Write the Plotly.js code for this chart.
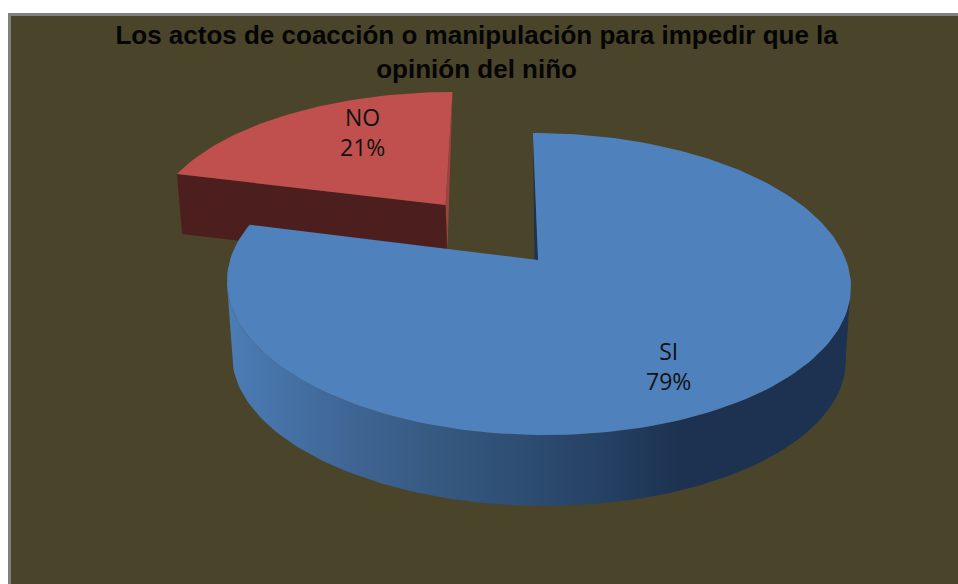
<!DOCTYPE html>
<html><head><meta charset="utf-8">
<script src="https://cdn.plot.ly/plotly-3.0.1.min.js"></script>
<style>html,body{margin:0;padding:0;background:#fff}#c{width:958px;height:584px}</style>
</head><body><div id="c"></div>
<script>
const categories = ['SI', 'NO'];
const values = [79, 21];
const sliceColors = ['#4F81BD', '#C0504D'];
const titleText = 'Los actos de coacción o manipulación para impedir que la<br>opinión del niño';

// Perspective view of the tilted disc: a slice rim point is derived from its angle.
const total = values.reduce((a, b) => a + b, 0);
const startDeg = 0;
const angles = [startDeg];
values.forEach(v => angles.push(angles[angles.length - 1] + v / total * 360));

function viewPoint(view, deg) {
  const t = deg * Math.PI / 180, u = Math.sin(t), v = Math.cos(t), w = 1 + view.k * v;
  const dy = view.b * v / w;
  return [view.x + view.a * u / w + view.shear * dy, view.y - dy];
}
function arc(view, from, to) {
  const n = Math.max(2, Math.ceil(Math.abs(to - from) / 1.5));
  const pts = [];
  for (let i = 0; i <= n; i++) pts.push(viewPoint(view, from + (to - from) * i / n));
  return pts;
}
function poly(pts, color, extra) {
  const xs = pts.map(p => p[0]), ys = pts.map(p => p[1]);
  xs.push(xs[0]); ys.push(ys[0]);
  return Object.assign({
    type: 'scatter', mode: 'lines', x: xs, y: ys, fill: 'toself', fillcolor: color,
    line: {width: 0, color: color}, hoverinfo: 'skip', showlegend: false
  }, extra || {});
}

const blueTop = {x: 538, y: 260, a: 308, b: 147.2, k: 0.159, shear: -0.04};
const blueBase = {x: 538, y: 334, a: 303, b: 144.5, k: 0.159, shear: -0.04};
const redTop = {x: 445.5, y: 205, a: 289, b: 129, k: 0.142, shear: 0.062};
const redDrop = [2, 60];

const redRim = arc(redTop, angles[1], angles[2]);
const redFront = viewPoint(redTop, angles[1]);
const redEnd = viewPoint(redTop, angles[2]);
const redApex = [redTop.x, redTop.y];
const blueRim = arc(blueTop, angles[0], angles[1]);
const blueApex = [blueTop.x, blueTop.y];
const blueStart = viewPoint(blueTop, angles[0]);

const traces = [
  // red wedge: side walls then top
  poly([redEnd, redApex, [redApex[0] + redDrop[0], redApex[1] + 44]], '#A04141'),
  poly([redFront, redApex, [redApex[0] + redDrop[0], redApex[1] + redDrop[1]], [redFront[0] + 5, redFront[1] + redDrop[1]]], '#4D1E1E'),
  poly([redApex].concat(redRim), sliceColors[1]),
  // blue wedge: wall, inner sliver, top
  poly(arc(blueTop, 99, 261).concat(arc(blueBase, 261, 99)), '#1C3250', {
    fillgradient: {type: 'horizontal', colorscale: [
      [0, '#4B7DB6'], [0.08, '#4673A8'], [0.2, '#3F6594'], [0.35, '#35587F'],
      [0.5, '#2C4B70'], [0.62, '#243F61'], [0.73, '#1C3250'], [1, '#1C3250']
    ]}
  }),
  poly([blueStart, blueApex, [blueApex[0] - 3.5, blueApex[1] - 0.5]], '#1C3250'),
  poly([blueApex].concat(blueRim), sliceColors[0])
];

const labelPos = [[668, 365.5], [362, 132]];
const annotations = categories.map((c, i) => ({
  x: labelPos[i][0], y: labelPos[i][1], xref: 'x', yref: 'y', showarrow: false,
  text: c + '<br>' + Math.round(values[i] / total * 100) + '%',
  font: {family: '"Open Sans", "Noto Sans", sans-serif', size: 23, color: '#111111'},
  align: 'center', xanchor: 'center', yanchor: 'middle'
}));

const layout = {
  width: 958, height: 584, margin: {l: 0, r: 0, t: 0, b: 0},
  paper_bgcolor: '#FFFFFF', plot_bgcolor: 'rgba(0,0,0,0)',
  showlegend: false,
  title: {text: titleText, x: 0.4975, xanchor: 'center', y: 0.924, yanchor: 'middle',
    font: {family: '"Liberation Sans", Arial, sans-serif', size: 26, color: '#050505', weight: 700}},
  xaxis: {range: [0, 958], visible: false, fixedrange: true},
  yaxis: {range: [584, 0], visible: false, fixedrange: true},
  shapes: [{type: 'rect', layer: 'below', xref: 'x', yref: 'y', x0: 9.5, x1: 962, y0: 14.5, y1: 590,
    fillcolor: '#4A442A', line: {color: '#808080', width: 3}}],
  annotations: annotations
};
Plotly.newPlot('c', traces, layout, {displayModeBar: false, staticPlot: true});
</script></body></html>
